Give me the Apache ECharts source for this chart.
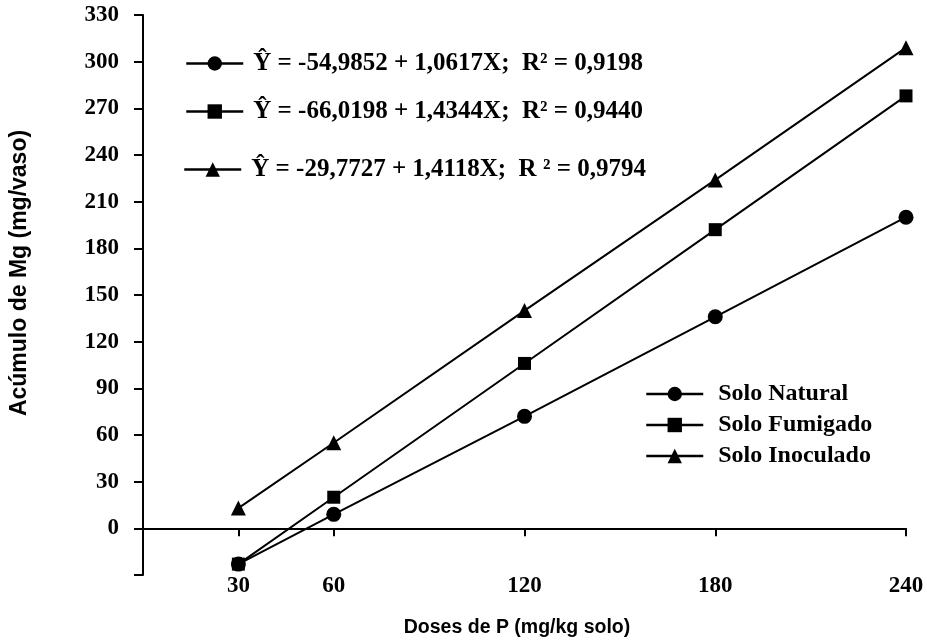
<!DOCTYPE html>
<html>
<head>
<meta charset="utf-8">
<script src="https://cdn.jsdelivr.net/npm/echarts@6/dist/echarts.min.js"></script>
<style>
  html, body { margin: 0; padding: 0; background: #fff; }
  #chart { width: 927px; height: 642px; }
</style>
</head>
<body>
<div id="chart"></div>
<script>
// Doses de P (mg/kg solo)
const doses = [30, 60, 120, 180, 240];
const xTicks = [30, 60, 120, 180, 240];

// Acúmulo de Mg (mg/vaso) per treatment
const soloNatural = [-23, 9, 72, 136, 200];
const soloFumigado = [-23, 20, 106, 192, 278];
const soloInoculado = [13, 55, 140, 224, 309];

const seriesNames = ['Solo Natural', 'Solo Fumigado', 'Solo Inoculado'];
const equations = [
  'Ŷ = -54,9852 + 1,0617X;  R² = 0,9198',
  'Ŷ = -66,0198 + 1,4344X;  R² = 0,9440',
  'Ŷ = -29,7727 + 1,4118X;  R ² = 0,9794'
];

const serif = '"Liberation Serif", "Times New Roman", serif';
const sans = '"Liberation Sans", Arial, sans-serif';

function pairs(ys) {
  return doses.map((x, i) => [x, ys[i]]);
}

const lineStyle = { color: '#000', width: 2 };
const itemStyle = { color: '#000' };

function eqLegend(idx, left, top) {
  return {
    data: [seriesNames[idx]],
    left: left,
    top: top,
    padding: 0,
    itemWidth: 57,
    itemHeight: 18,
    selectedMode: false,
    lineStyle: { width: 2.5 },
    formatter: () => equations[idx],
    textStyle: { fontFamily: serif, fontWeight: 'bold', fontSize: 25, color: '#000', padding: [0, 0, 0, 5] }
  };
}

const chart = echarts.init(document.getElementById('chart'), null, { renderer: 'canvas' });

chart.setOption({
  animation: false,
  backgroundColor: '#fff',
  grid: { left: 143, right: 21, top: 15, bottom: 67, containLabel: false, outerBoundsMode: 'none' },
  legend: [
    eqLegend(0, 185, 51),
    eqLegend(1, 185, 99),
    eqLegend(2, 183, 157),
    {
      data: seriesNames,
      orient: 'vertical',
      left: 645,
      top: 382,
      padding: 0,
      itemGap: 7,
      itemWidth: 57,
      itemHeight: 18,
      selectedMode: false,
      lineStyle: { width: 2.5 },
      textStyle: { fontFamily: serif, fontWeight: 'bold', fontSize: 24, color: '#000', padding: [0, 0, 0, 10] }
    }
  ],
  xAxis: [
    {
      type: 'value',
      min: 0,
      max: 240,
      axisLine: { show: true, onZero: true, lineStyle: { color: '#000', width: 2 } },
      axisTick: { show: true, customValues: xTicks, length: 8, lineStyle: { color: '#000', width: 2 } },
      axisLabel: { show: false },
      splitLine: { show: false }
    },
    {
      type: 'value',
      min: 0,
      max: 240,
      position: 'bottom',
      axisLine: { show: false, onZero: false },
      axisTick: { show: false },
      axisLabel: {
        customValues: xTicks,
        margin: 0,
        fontFamily: serif,
        fontWeight: 'bold',
        fontSize: 23,
        color: '#000'
      },
      splitLine: { show: false },
      name: 'Doses de P (mg/kg solo)',
      nameLocation: 'middle',
      nameGap: 43,
      nameTextStyle: { fontFamily: sans, fontWeight: 'bold', fontSize: 19.5, color: '#000', padding: [0, 15, 0, 0] }
    }
  ],
  yAxis: {
    type: 'value',
    min: -30,
    max: 330,
    interval: 30,
    axisLine: { show: true, lineStyle: { color: '#000', width: 2 } },
    axisTick: { show: true, length: 9, lineStyle: { color: '#000', width: 2 } },
    axisLabel: {
      margin: 24,
      fontFamily: serif,
      fontWeight: 'bold',
      fontSize: 23,
      color: '#000',
      formatter: v => (v < 0 ? '' : String(v))
    },
    splitLine: { show: false },
    name: 'Acúmulo de Mg (mg/vaso)',
    nameLocation: 'middle',
    nameGap: 112,
    nameTextStyle: { fontFamily: sans, fontWeight: 'bold', fontSize: 23, color: '#000', padding: [0, 0, 0, 44] }
  },
  series: [
    {
      name: seriesNames[1],
      type: 'line',
      data: pairs(soloFumigado),
      symbol: 'rect',
      symbolSize: 13,
      lineStyle: lineStyle,
      itemStyle: itemStyle
    },
    {
      name: seriesNames[2],
      type: 'line',
      data: pairs(soloInoculado),
      symbol: 'triangle',
      symbolSize: 15,
      lineStyle: lineStyle,
      itemStyle: itemStyle
    },
    {
      name: seriesNames[0],
      type: 'line',
      data: pairs(soloNatural),
      symbol: 'circle',
      symbolSize: 15,
      lineStyle: lineStyle,
      itemStyle: itemStyle
    }
  ]
});
</script>
</body>
</html>
